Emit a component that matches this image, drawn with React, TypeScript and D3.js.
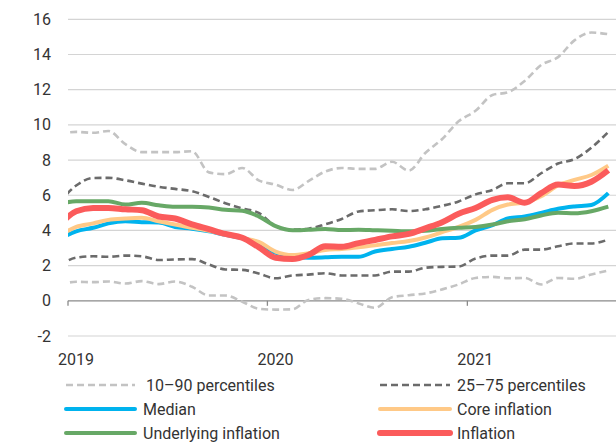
import React from "react";
import * as d3 from "d3";

// Monthly observations, Dec 2018 .. Sep 2021 (mid-month)
const months: string[] = [
  "2018-12",
  "2019-01", "2019-02", "2019-03", "2019-04", "2019-05", "2019-06", "2019-07", "2019-08", "2019-09", "2019-10", "2019-11", "2019-12",
  "2020-01", "2020-02", "2020-03", "2020-04", "2020-05", "2020-06", "2020-07", "2020-08", "2020-09", "2020-10", "2020-11", "2020-12",
  "2021-01", "2021-02", "2021-03", "2021-04", "2021-05", "2021-06", "2021-07", "2021-08", "2021-09",
];

const p90: number[] = [9.5, 9.6, 9.55, 9.65, 8.9, 8.45, 8.45, 8.45, 8.5, 7.3, 7.2, 7.55, 6.85, 6.6, 6.3, 6.8, 7.35, 7.55, 7.5, 7.5, 7.9, 7.4, 8.4, 9.2, 10.2, 10.8, 11.7, 11.85, 12.5, 13.4, 13.85, 14.8, 15.25, 15.15];
const p10: number[] = [0.9, 1.08, 1.06, 1.1, 0.98, 1.12, 0.95, 1.1, 0.8, 0.3, 0.3, -0.05, -0.45, -0.5, -0.48, 0.05, 0.15, 0.12, -0.15, -0.4, 0.2, 0.32, 0.42, 0.65, 0.93, 1.3, 1.36, 1.28, 1.3, 0.93, 1.3, 1.25, 1.5, 1.72];
const p75: number[] = [5.6, 6.55, 6.98, 6.99, 6.85, 6.66, 6.48, 6.36, 6.23, 5.9, 5.55, 5.25, 5.0, 4.25, 4.05, 4.1, 4.35, 4.65, 5.08, 5.15, 5.2, 5.1, 5.2, 5.4, 5.65, 6.05, 6.3, 6.68, 6.68, 7.25, 7.8, 8.05, 8.7, 9.6];
const p25: number[] = [2.0, 2.45, 2.53, 2.5, 2.57, 2.53, 2.32, 2.35, 2.37, 2.06, 1.78, 1.76, 1.55, 1.28, 1.44, 1.49, 1.57, 1.44, 1.44, 1.44, 1.66, 1.66, 1.88, 1.93, 1.95, 2.4, 2.57, 2.57, 2.91, 2.91, 3.1, 3.26, 3.26, 3.48];
const median: number[] = [3.5, 3.95, 4.15, 4.4, 4.52, 4.47, 4.45, 4.2, 4.1, 3.95, 3.75, 3.55, 3.3, 2.73, 2.5, 2.45, 2.47, 2.5, 2.5, 2.8, 2.95, 3.07, 3.3, 3.55, 3.58, 4.0, 4.3, 4.68, 4.8, 5.0, 5.23, 5.36, 5.45, 6.12];
const core: number[] = [3.7, 4.2, 4.4, 4.6, 4.68, 4.72, 4.52, 4.34, 4.15, 3.98, 3.78, 3.56, 3.35, 2.8, 2.6, 2.7, 2.88, 2.95, 3.05, 3.15, 3.28, 3.4, 3.6, 3.9, 4.2, 4.6, 5.17, 5.47, 5.58, 5.94, 6.55, 6.87, 7.15, 7.68];
const underlying: number[] = [5.5, 5.66, 5.66, 5.66, 5.47, 5.57, 5.43, 5.34, 5.34, 5.3, 5.17, 5.12, 4.8, 4.25, 4.01, 4.04, 4.08, 4.02, 4.04, 4.01, 3.98, 3.95, 3.98, 4.08, 4.15, 4.2, 4.34, 4.52, 4.64, 4.85, 5.0, 4.97, 5.09, 5.35];
const inflation: number[] = [4.3, 5.09, 5.28, 5.28, 5.2, 5.15, 4.79, 4.68, 4.34, 4.07, 3.8, 3.58, 3.05, 2.45, 2.37, 2.6, 3.1, 3.07, 3.28, 3.46, 3.66, 3.8, 4.12, 4.47, 4.95, 5.28, 5.74, 5.88, 5.57, 6.12, 6.61, 6.53, 6.77, 7.42];

const yTicks: number[] = [-2, 0, 2, 4, 6, 8, 10, 12, 14, 16];
const yearLabels: string[] = ["2019", "2020", "2021"];

const W = 616;
const H = 443;
const left = 68;
const right = 616.5;
const FONT = "Roboto, 'Noto Sans', sans-serif";

const parse = d3.timeParse("%Y-%m-%d");

export default function App() {
  const dates = months.map((m) => parse(m + "-16") as Date);
  const x = d3
    .scaleTime()
    .domain([parse("2019-01-01") as Date, parse("2021-10-01") as Date])
    .range([left, right]);
  const y = d3.scaleLinear().domain([-2, 16]).range([336, 19.3]);

  const yearTicks = yearLabels.map((yr) => parse(yr + "-01-01") as Date);

  const mk = (vals: number[]) =>
    d3
      .line<number>()
      .x((_, i) => x(dates[i]))
      .y((v) => y(v))
      .curve(d3.curveMonotoneX)(vals) || "";

  const series = [
    { name: "p90", vals: p90, color: "#c3c3c3", w: 2.6, dash: "7,4" },
    { name: "p10", vals: p10, color: "#c3c3c3", w: 2.6, dash: "7,4" },
    { name: "p75", vals: p75, color: "#6b6b6b", w: 2.6, dash: "7,4" },
    { name: "p25", vals: p25, color: "#6b6b6b", w: 2.6, dash: "7,4" },
    { name: "median", vals: median, color: "#00b3ee", w: 4, dash: "" },
    { name: "core", vals: core, color: "#ffc987", w: 4, dash: "" },
    { name: "underlying", vals: underlying, color: "#67a866", w: 4, dash: "" },
    { name: "inflation", vals: inflation, color: "#fb5b5b", w: 6, dash: "" },
  ];

  const legend = [
    { label: "10\u201390 percentiles", color: "#c3c3c3", w: 2.6, dash: "7,4", col: 0, row: 0, tx: 146 },
    { label: "25\u201375 percentiles", color: "#6b6b6b", w: 2.6, dash: "7,4", col: 1, row: 0, tx: 457 },
    { label: "Median", color: "#00b3ee", w: 4, dash: "", col: 0, row: 1, tx: 143 },
    { label: "Core inflation", color: "#ffc987", w: 4, dash: "", col: 1, row: 1, tx: 457 },
    { label: "Underlying inflation", color: "#67a866", w: 4, dash: "", col: 0, row: 2, tx: 143 },
    { label: "Inflation", color: "#fb5b5b", w: 6, dash: "", col: 1, row: 2, tx: 457 },
  ];
  const legendCols = [
    [66, 135],
    [380, 450],
  ];
  const legendRows = [385, 409, 433];

  return (
    <svg
      width={W}
      height={H}
      style={{ position: "absolute", left: 0, top: 0, background: "#fff" }}
      fontFamily={FONT}
    >
      <defs>
        <clipPath id="plot">
          <rect x={left} y={0} width={right - left} height={345} />
        </clipPath>
      </defs>
      {yTicks.map((t) => (
        <g key={t}>
          {t !== 0 && (
            <line x1={left} x2={W} y1={y(t)} y2={y(t)} stroke="#d4d4d4" strokeWidth={1.2} />
          )}
          <text
            x={51}
            y={y(t)}
            textAnchor="end"
            dominantBaseline="central"
            fontSize={16}
            fill="#333"
          >
            {t}
          </text>
        </g>
      ))}
      <line x1={left} x2={W} y1={y(0)} y2={y(0)} stroke="#8a8a8a" strokeWidth={1.3} />
      {yearTicks.map((d, i) => (
        <g key={i}>
          <line x1={x(d)} x2={x(d)} y1={y(0)} y2={y(0) + 5} stroke="#8a8a8a" strokeWidth={1.3} />
          <text
            x={x(d) + 8}
            y={359}
            textAnchor="middle"
            dominantBaseline="central"
            fontSize={16}
            fill="#333"
          >
            {yearLabels[i]}
          </text>
        </g>
      ))}
      <g clipPath="url(#plot)">
        {series.map((s) => (
          <path
            key={s.name}
            d={mk(s.vals)}
            fill="none"
            stroke={s.color}
            strokeWidth={s.w}
            strokeDasharray={s.dash || undefined}
            strokeLinejoin="round"
          />
        ))}
      </g>
      {legend.map((l) => {
        const [x1, x2] = legendCols[l.col];
        const yy = legendRows[l.row];
        return (
          <g key={l.label}>
            <line
              x1={x1}
              x2={x2}
              y1={yy}
              y2={yy}
              stroke={l.color}
              strokeWidth={l.w}
              strokeDasharray={l.dash || undefined}
              strokeLinecap={l.dash ? "butt" : "round"}
            />
            <text x={l.tx} y={yy} dominantBaseline="central" fontSize={16} fill="#333">
              {l.label}
            </text>
          </g>
        );
      })}
    </svg>
  );
}
